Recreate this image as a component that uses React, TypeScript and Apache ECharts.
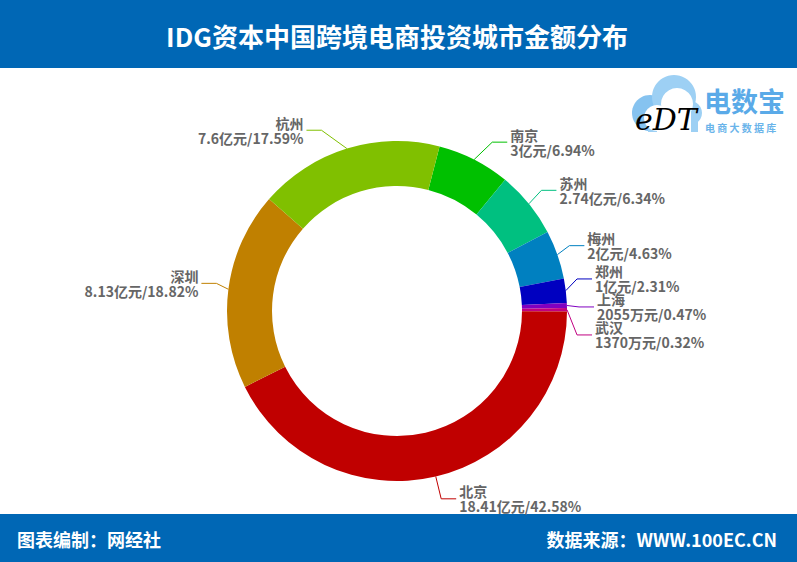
import React, { useEffect, useRef } from "react";
import * as echarts from "echarts";

const cities = ["南京", "苏州", "梅州", "郑州", "上海", "武汉", "北京", "深圳", "杭州"];
const values = [3, 2.74, 2, 1, 0.2055, 0.137, 18.41, 8.13, 7.6];
const valueTexts = ["3亿元", "2.74亿元", "2亿元", "1亿元", "2055万元", "1370万元", "18.41亿元", "8.13亿元", "7.6亿元"];
const percentTexts = ["6.94%", "6.34%", "4.63%", "2.31%", "0.47%", "0.32%", "42.58%", "18.82%", "17.59%"];
const colors = ["#00c000", "#00c080", "#0080c0", "#0000c0", "#8000c0", "#c00080", "#c00000", "#c08000", "#80c000"];

const titleText = "IDG资本中国跨境电商投资城市金额分布";
const footerLeft = "图表编制：网经社";
const footerRight = "数据来源：WWW.100EC.CN";

const FONT = "'Noto Sans CJK SC', 'Noto Sans', sans-serif";
const BLUE = "#0067b5";

const W = 797, H = 562;
const CX = 397, CY = 311, R_OUT = 170, R_IN = 125, START = 75.5;
const LEN = 15, LEN2 = 15, LABEL_H = 28, LABEL_DY = -4;

type Item = { i: number; dir: number; x: number; y: number; height: number; pts: number[][] };

// Classic (v4-style) outside-label layout for pie labels.
function computeLabelLayouts(): Item[] {
  const total = values.reduce((a, b) => a + b, 0);
  let cum = 0;
  const items: Item[] = values.map((v, i) => {
    const theta = ((90 - START) + (360 * (cum + v / 2)) / total) * Math.PI / 180;
    cum += v;
    const dx = Math.sin(theta), dy = -Math.cos(theta);
    const x1 = CX + R_OUT * dx, y1 = CY + LABEL_DY + R_OUT * dy;
    const x2 = x1 + dx * LEN, y2 = y1 + dy * LEN;
    const dir = dx < 0 ? -1 : 1;
    const x3 = x2 + dir * LEN2;
    return { i, dir, x: x3 + dir * 5, y: y2, height: LABEL_H, pts: [[CX + R_OUT * dx, CY + R_OUT * dy], [x2, y2], [x3, y2]] };
  });
  const cy = CY + LABEL_DY;
  const changeX = (list: Item[], isDown: boolean, dir: number) => {
    let last = isDown ? Infinity : 0;
    for (const it of list) {
      const dY = Math.abs(it.y - cy);
      let dX = dY < R_OUT + LEN ? Math.sqrt((R_OUT + LEN + LEN2) ** 2 - dY * dY) : Math.abs(it.x - CX);
      if (isDown && dX >= last) dX = last - 10;
      if (!isDown && dX <= last) dX = last + 10;
      it.x = CX + dX * dir;
      last = dX;
    }
  };
  const adjust = (list: Item[], dir: number) => {
    if (!list.length) return;
    list.sort((a, b) => a.y - b.y);
    const shiftUp = (end: number, delta: number) => {
      for (let j = end; j >= 0; j--) {
        list[j].y -= delta;
        if (j > 0 && list[j].y > list[j - 1].y + list[j - 1].height) break;
      }
    };
    const shiftDown = (start: number, end: number, delta: number) => {
      for (let j = start; j < end; j++) {
        list[j].y += delta;
        if (j > start && j + 1 < end && list[j + 1].y > list[j].y + list[j].height) {
          shiftUp(j, delta / 2);
          return;
        }
      }
      shiftUp(end - 1, delta / 2);
    };
    let lastY = 0;
    for (let k = 0; k < list.length; k++) {
      const d = list[k].y - lastY;
      if (d < 0) shiftDown(k, list.length, -d);
      lastY = list[k].y + list[k].height;
    }
    if (H - lastY < 0) shiftUp(list.length - 1, lastY - H);
    const up: Item[] = [], down: Item[] = [];
    list.forEach((it) => (it.y >= cy ? down : up).push(it));
    changeX(up, false, dir);
    changeX(down, true, dir);
  };
  adjust(items.filter((it) => it.dir < 0), -1);
  adjust(items.filter((it) => it.dir > 0), 1);
  items.forEach((it) => {
    const dist = it.pts[1][0] - it.pts[2][0];
    it.pts[2][0] = it.x - it.dir * 3;
    it.pts[1][1] = it.pts[2][1] = it.y;
    it.pts[1][0] = it.pts[2][0] + dist;
  });
  const byIndex: Item[] = [];
  items.forEach((it) => (byIndex[it.i] = it));
  return byIndex;
}

export default function App() {
  const ref = useRef<HTMLDivElement>(null);
  useEffect(() => {
    if (!ref.current) return;
    const chart = echarts.init(ref.current, undefined, { renderer: "svg" });
    const layouts = computeLabelLayouts();
    const cloudDark = "#86c3f0";
    const cloudLight = "#9dd0f4";
    chart.setOption({
      animation: false,
      backgroundColor: "#ffffff",
      graphic: [
        { type: "rect", shape: { x: 0, y: 0, width: W, height: 68 }, style: { fill: BLUE }, silent: true },
        {
          type: "text", x: 397, y: 35,
          style: { text: titleText, fill: "#ffffff", font: `bold 26px ${FONT}`, textAlign: "center", textVerticalAlign: "middle" },
        },
        { type: "rect", shape: { x: 0, y: 514, width: W, height: 48 }, style: { fill: BLUE }, silent: true },
        {
          type: "text", x: 17, y: 539,
          style: { text: footerLeft, fill: "#ffffff", font: `bold 18px ${FONT}`, textAlign: "left", textVerticalAlign: "middle" },
        },
        {
          type: "text", x: 777, y: 539,
          style: { text: footerRight, fill: "#ffffff", font: `bold 18px ${FONT}`, textAlign: "right", textVerticalAlign: "middle" },
        },
        // logo cloud
        { type: "circle", shape: { cx: 650, cy: 113, r: 18 }, style: { fill: cloudDark } },
        { type: "circle", shape: { cx: 674, cy: 97, r: 22 }, style: { fill: cloudLight } },
        { type: "circle", shape: { cx: 690, cy: 113, r: 12 }, style: { fill: cloudLight } },
        { type: "rect", shape: { x: 648, y: 112, width: 50, height: 20 }, style: { fill: cloudLight } },
        { type: "circle", shape: { cx: 657, cy: 118, r: 13 }, style: { fill: "#ffffff" } },
        { type: "circle", shape: { cx: 677, cy: 104, r: 16 }, style: { fill: "#ffffff" } },
        { type: "rect", shape: { x: 657, y: 112, width: 34, height: 20 }, style: { fill: "#ffffff" } },
        {
          type: "text", x: 635, y: 134,
          style: {
            text: "eDT", font: `italic 30px 'DejaVu Serif', serif`, textAlign: "left", textVerticalAlign: "bottom",
            fill: new echarts.graphic.LinearGradient(0, 0, 0, 1, [
              { offset: 0, color: "#9ad06a" },
              { offset: 1, color: "#6ab8ea" },
            ]),
          },
        },
        {
          type: "text", x: 704, y: 100,
          style: { text: "电数宝", fill: "#5aaae8", font: `bold 27px ${FONT}`, textAlign: "left", textVerticalAlign: "middle" },
        },
        {
          type: "text", x: 705, y: 127,
          style: { text: "电 商 大 数 据 库", fill: "#6ab4ea", font: `bold 10px ${FONT}`, textAlign: "left", textVerticalAlign: "middle" },
        },
      ],
      series: [
        {
          type: "pie",
          center: [CX, CY],
          radius: [R_IN, R_OUT],
          startAngle: START,
          clockwise: true,
          silent: true,
          avoidLabelOverlap: false,
          label: {
            show: true,
            color: "#666666",
            fontFamily: FONT,
            fontWeight: "bold",
            fontSize: 14,
            lineHeight: 15,
            formatter: (p: any) => `${p.name}\n${valueTexts[p.dataIndex]}/${percentTexts[p.dataIndex]}`,
          },
          labelLine: { show: true, length: LEN, length2: LEN2, lineStyle: { width: 1 } },
          labelLayout: (params: any) => {
            const l = layouts[params.dataIndex];
            return {
              x: l.x,
              y: l.y,
              align: l.dir < 0 ? "right" : "left",
              verticalAlign: "middle",
              labelLinePoints: l.pts,
            };
          },
          data: cities.map((c, i) => ({ name: c, value: values[i], itemStyle: { color: colors[i] } })),
        },
      ],
    });
    return () => chart.dispose();
  }, []);
  return <div ref={ref} style={{ position: "fixed", left: 0, top: 0, width: W, height: H }} />;
}
